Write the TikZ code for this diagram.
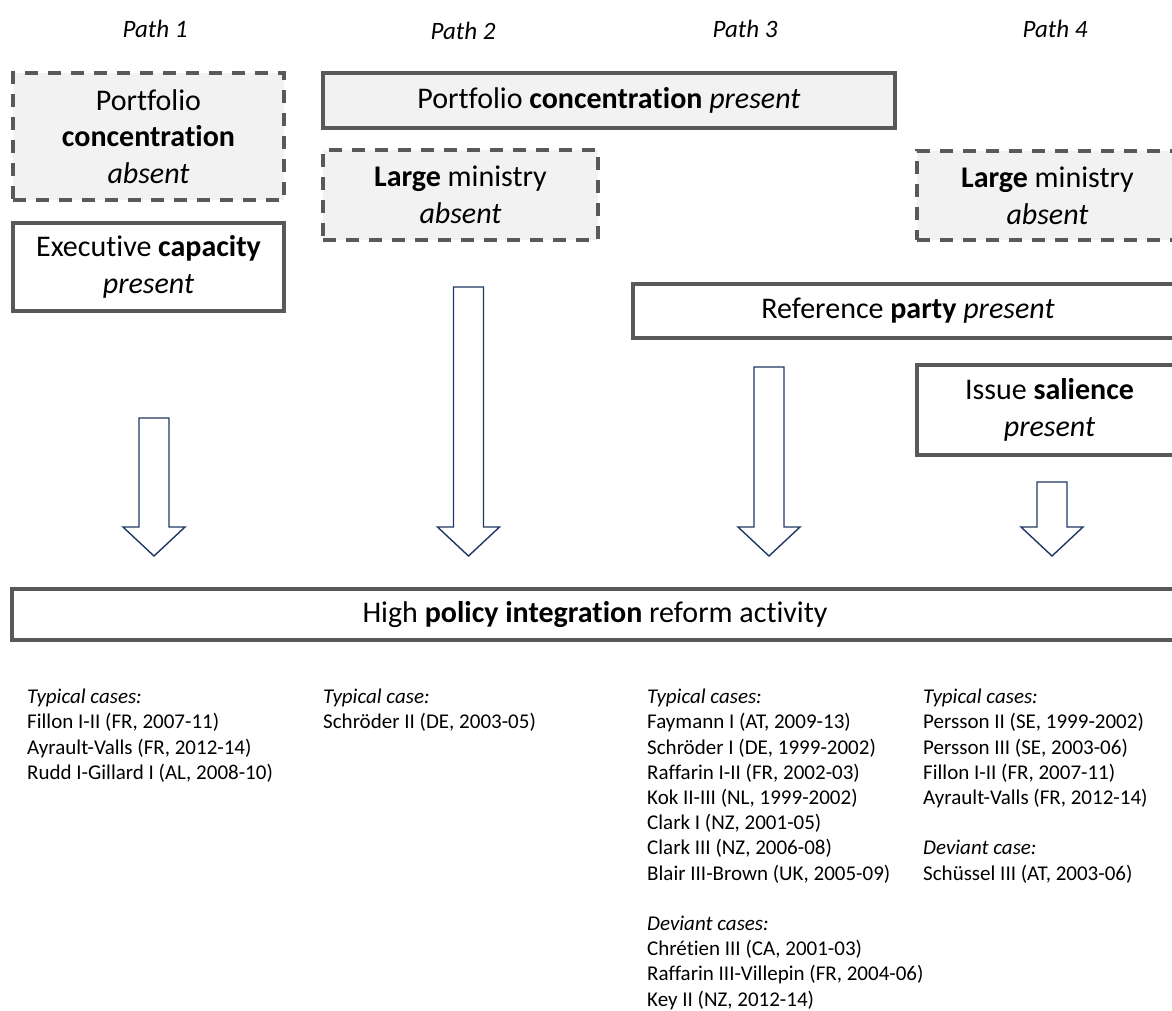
\documentclass[tikz,border=0pt]{standalone}
\usepackage{fontspec}
\setmainfont{Carlito}[Ligatures={NoCommon}]
\usetikzlibrary{positioning}
\definecolor{BoxLine}{RGB}{89,89,89}
\definecolor{BoxFill}{RGB}{242,242,242}
\definecolor{Navy}{RGB}{32,56,100}

\tikzset{
  factor/.style={draw=BoxLine, line width=3.2pt, inner sep=0pt, align=center,
    font=\fontsize{30}{36.7}\selectfont},
  greybox/.style={factor, fill=BoxFill},
  absentbox/.style={greybox, dash pattern=on 13pt off 10pt},
  pathlabel/.style={font=\fontsize{25}{30}\selectfont\itshape},
  cases/.style={anchor=north west, inner sep=0pt, align=left,
    font=\fontsize{21}{25.2}\selectfont},
  blockarrow/.style={draw=Navy, line width=1.4pt, fill=white, line join=miter},
}

\begin{document}
\begin{tikzpicture}[x=1pt,y=-1pt]
\clip (0,0) rectangle (1172,1010);
\fill[white] (0,0) rectangle (1172,1010);

% path headings
\node[pathlabel] (path1) at (155,29) {Path 1};
\node[pathlabel] (path2) at (463,31) {Path 2};
\node[pathlabel] (path3) at (745,29) {Path 3};
\node[pathlabel] (path4) at (1055,29) {Path 4};

% conditions
\node[absentbox, minimum width=271pt, minimum height=127pt] (conc1) at (148.5,136.5)
  {Portfolio\\\textbf{concentration}\\\textit{absent}};
\node[factor, minimum width=271pt, minimum height=88pt] (cap1) at (148.5,267)
  {Executive \textbf{capacity}\\\textit{present}};
\node[greybox, minimum width=572pt, minimum height=55pt] (conc2) at (609,100.5)
  {Portfolio \textbf{concentration} \textit{present}};
\node[absentbox, minimum width=275pt, minimum height=90pt] (min2) at (460.5,195)
  {\textbf{Large} ministry\\\textit{absent}};
\node[absentbox, minimum width=261pt, minimum height=89pt] (min4) at (1047.5,195.5)
  {\textbf{Large} ministry\\\textit{absent}};
\node[factor, minimum width=550pt, minimum height=54pt] (party3) at (908,311)
  {Reference \textbf{party} \textit{present}};
\node[factor, minimum width=265pt, minimum height=90pt] (sal4) at (1049.5,410)
  {Issue \textbf{salience}\\\textit{present}};

% outcome
\node[factor, minimum width=1166pt, minimum height=51pt] (outcome) at (595,614.5)
  {High \textbf{policy integration} reform activity};

% block arrows
\foreach \x/\t in {154/418, 468.5/287, 769/367, 1052/482}
  \draw[blockarrow] (\x-15,\t) -- (\x+15,\t) -- (\x+15,527) -- (\x+31,527)
    -- (\x,556) -- (\x-31,527) -- (\x-15,527) -- cycle;

% cases
\node[cases] (cases1) at (27,689)
  {\textit{Typical cases:}\\Fillon I-II (FR, 2007-11)\\Ayrault-Valls (FR, 2012-14)\\Rudd I-Gillard I (AL, 2008-10)};
\node[cases] (cases2) at (323,689)
  {\textit{Typical case:}\\Schröder II (DE, 2003-05)};
\node[cases] (cases3) at (647,689)
  {\textit{Typical cases:}\\Faymann I (AT, 2009-13)\\Schröder I (DE, 1999-2002)\\Raffarin I-II (FR, 2002-03)\\Kok II-III (NL, 1999-2002)\\Clark I (NZ, 2001-05)\\Clark III (NZ, 2006-08)\\Blair III-Brown (UK, 2005-09)\\[25.2pt]
   \textit{Deviant cases:}\\Chrétien III (CA, 2001-03)\\Raffarin III-Villepin (FR, 2004-06)\\Key II (NZ, 2012-14)};
\node[cases] (cases4) at (923,689)
  {\textit{Typical cases:}\\Persson II (SE, 1999-2002)\\Persson III (SE, 2003-06)\\Fillon I-II (FR, 2007-11)\\Ayrault-Valls (FR, 2012-14)\\[25.2pt]
   \textit{Deviant case:}\\Schüssel III (AT, 2003-06)};

\end{tikzpicture}
\end{document}
